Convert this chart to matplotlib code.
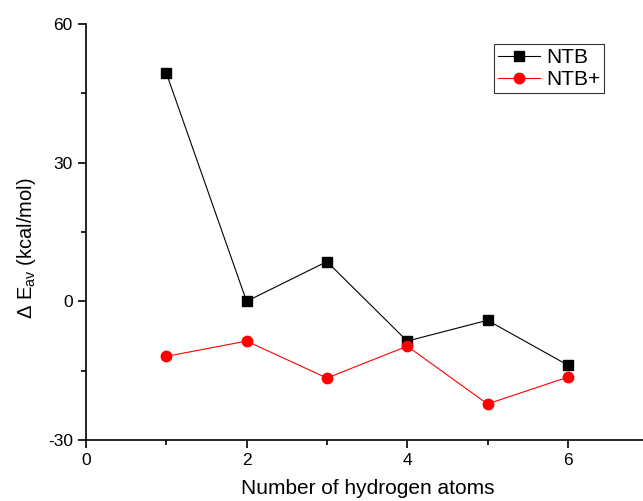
import matplotlib
matplotlib.use("Agg")
import matplotlib.pyplot as plt
from matplotlib.ticker import MultipleLocator

plt.rcParams['font.family'] = ['Liberation Sans', 'DejaVu Sans']
plt.rcParams['axes.unicode_minus'] = False

x = [1, 2, 3, 4, 5, 6]
ntb = [49.4, 0.0, 8.6, -8.6, -4.1, -13.8]
ntb_plus = [-11.9, -8.6, -16.6, -9.7, -22.2, -16.4]

fig = plt.figure(figsize=(6.43, 5.01), dpi=100)
W, H = 643, 501
ax = fig.add_axes([86 / W, (H - 440) / H, (W - 86) / W, (440 - 24) / H])

ax.plot(x, ntb, color='black', lw=0.8, marker='s', ms=6.5, mfc='black', mec='black', label='NTB')
ax.plot(x, ntb_plus, color='red', lw=0.8, marker='o', ms=7.5, mfc='red', mec='red', label='NTB+')

ax.set_xlim(0, (W - 86) / 80.3)
ax.set_ylim(-30, 60)
ax.xaxis.set_major_locator(MultipleLocator(2))
ax.xaxis.set_minor_locator(MultipleLocator(1))
ax.yaxis.set_major_locator(MultipleLocator(30))
ax.yaxis.set_minor_locator(MultipleLocator(15))
ax.spines['top'].set_visible(False)
ax.spines['right'].set_visible(False)
for s in ['left', 'bottom']:
    ax.spines[s].set_linewidth(1.2)
ax.tick_params(which='major', direction='out', length=6, width=1.2, labelsize=12.5)
ax.tick_params(which='minor', direction='out', length=3.5, width=1.2)

fig.text(368 / W, 1 - 488 / H, 'Number of hydrogen atoms', fontsize=15,
         ha='center', va='center')
fig.text(26 / W, 1 - 248 / H, 'Δ E$_{\\mathregular{av}}$ (kcal/mol)', fontsize=14.5,
         ha='center', va='center', rotation=90)

leg = ax.legend(loc='upper left', bbox_to_anchor=((494 - 86) / (W - 86), 1 - (44 - 24) / 416),
                fontsize=15, frameon=True, fancybox=False, borderaxespad=0,
                handlelength=2.0, borderpad=0.2, labelspacing=0.15, handletextpad=0.3)
leg.get_frame().set_edgecolor('black')
leg.get_frame().set_linewidth(0.8)

fig.savefig('out.png', dpi=100)
